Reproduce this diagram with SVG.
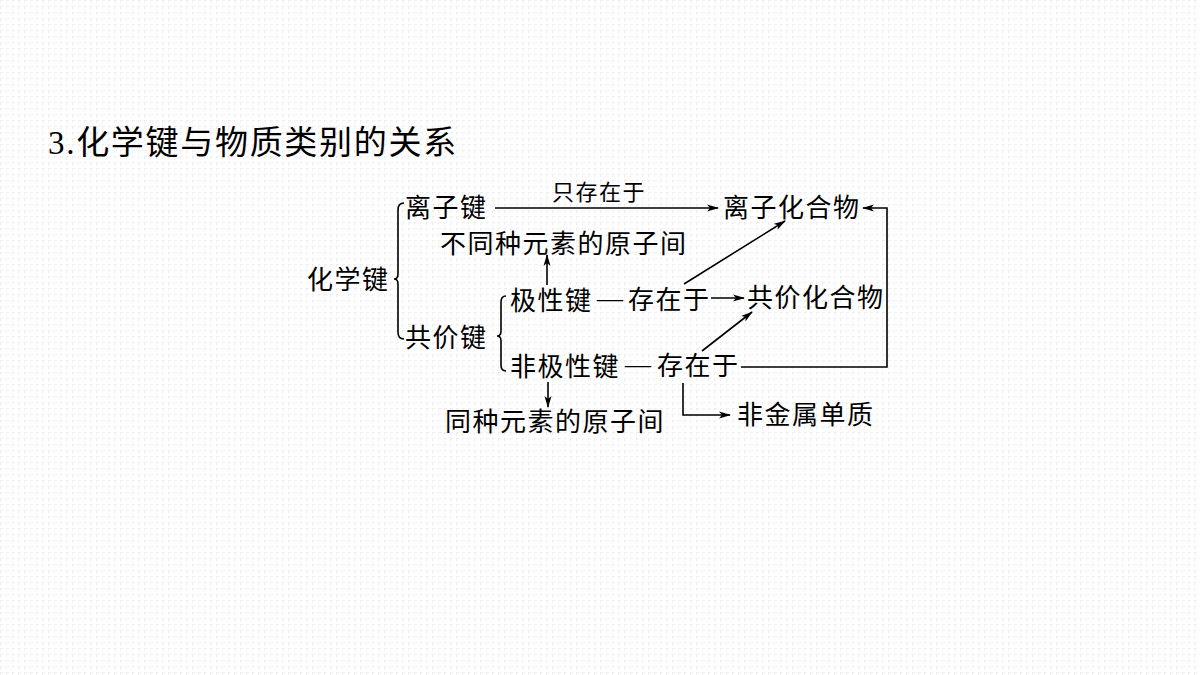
<svg xmlns="http://www.w3.org/2000/svg" width="1200" height="675" viewBox="0 0 1200 675">
<defs>
<pattern id="grid" width="6" height="6" patternUnits="userSpaceOnUse">
<path d="M0 0.5H3M0.5 0V3" stroke="#efefef" stroke-width="1" fill="none"/>
</pattern>
<marker id="ah" markerWidth="12" markerHeight="8" refX="11" refY="4" orient="auto" markerUnits="userSpaceOnUse">
<path d="M0 0.5L12 4L0 7.5L3 4Z" fill="#000"/>
</marker>
</defs>
<style>
.t{font-family:"Liberation Serif","Noto Sans CJK SC",serif;font-size:26px;letter-spacing:1.5px;fill:#000}
.s{font-family:"Liberation Serif","Noto Sans CJK SC",serif;font-size:22px;letter-spacing:1.5px;fill:#000}
.title{font-family:"Liberation Serif","Noto Sans CJK SC",serif;font-size:33px;letter-spacing:1.7px;fill:#000}
.c{fill:none;stroke:#000;stroke-width:1.6}
.a{marker-end:url(#ah)}
.b{fill:none;stroke:#000;stroke-width:1.6}
</style>
<rect width="1200" height="675" fill="#fff"/>
<rect width="1200" height="675" fill="url(#grid)"/>
<g id="title"><text class="title" x="48" y="154">3.化学键与物质类别的关系</text></g>
<g id="n-chemical-bond"><text class="t" x="307" y="289">化学键</text></g>
<g id="brace-main"><path class="b" d="M404 203Q398 203 398 210L398 274Q398 279 394 279Q398 279 398 284L398 332Q398 339 404 339"/></g>
<g id="n-ionic-bond"><text class="t" x="405" y="217">离子键</text></g>
<g id="n-ionic-compound"><text class="t" x="723" y="217">离子化合物</text></g>
<g id="n-diff-elements"><text class="t" x="440" y="253">不同种元素的原子间</text></g>
<g id="n-covalent-bond"><text class="t" x="405" y="347">共价键</text></g>
<g id="brace-covalent"><path class="b" d="M506 296Q501 296 501 302L501 331Q501 336 497 336Q501 336 501 341L501 365Q501 371 506 371"/></g>
<g id="n-polar"><text class="t" x="510" y="310">极性键<tspan x="597" y="307">—</tspan><tspan x="628" y="309">存在于</tspan></text></g>
<g id="n-covalent-compound"><text class="t" x="747" y="307">共价化合物</text></g>
<g id="n-nonpolar"><text class="t" x="510" y="376">非极性键<tspan x="625" y="373">—</tspan><tspan x="657" y="375">存在于</tspan></text></g>
<g id="n-same-elements"><text class="t" x="445" y="431">同种元素的原子间</text></g>
<g id="n-nonmetal"><text class="t" x="737" y="424">非金属单质</text></g>
<g id="connectors">
<path class="c a" d="M495 208L718 208"/>
<text class="s" x="552" y="200">只存在于</text>
<path class="c a" d="M547 285L547 255"/>
<path class="c a" d="M684 284L785 221"/>
<path class="c a" d="M711 298L744 298"/>
<path class="c a" d="M702 351L752 312"/>
<path class="c a" d="M741 367L887 367L887 208L863 208"/>
<path class="c a" d="M548 382L548 407"/>
<path class="c a" d="M683 383L683 415L730 415"/>
</g>
</svg>
